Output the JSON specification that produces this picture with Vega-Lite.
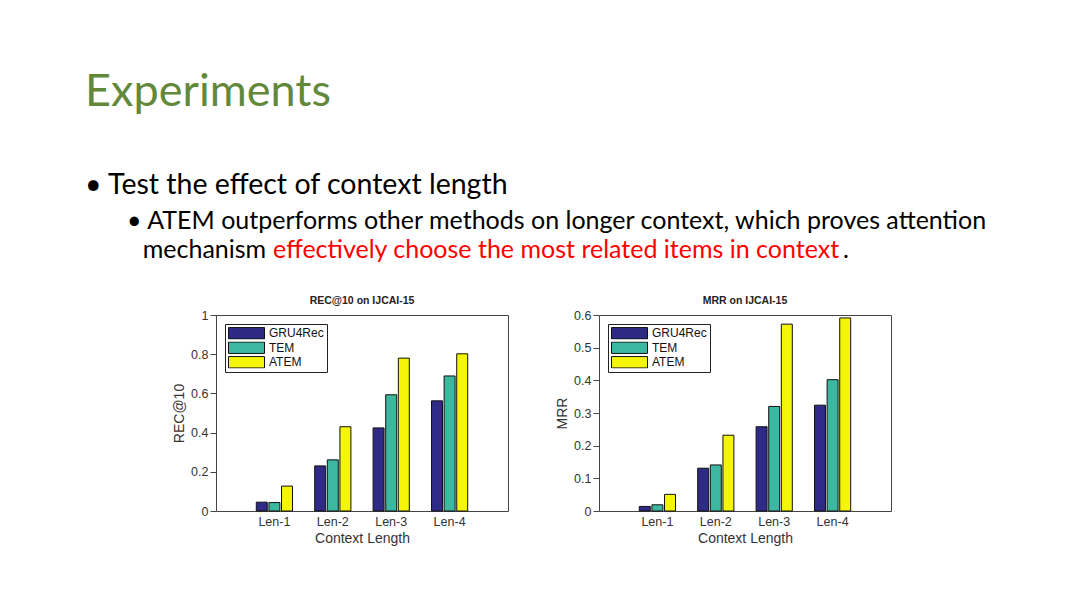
{
  "$schema": "https://vega.github.io/schema/vega-lite/v6.json",
  "background": "white",
  "padding": {"left": 85, "top": 69, "right": 5, "bottom": 5},
  "datasets": {
    "rec": [
      {"len": "Len-1", "method": "GRU4Rec", "value": 0.045},
      {"len": "Len-1", "method": "TEM", "value": 0.043},
      {"len": "Len-1", "method": "ATEM", "value": 0.127},
      {"len": "Len-2", "method": "GRU4Rec", "value": 0.230},
      {"len": "Len-2", "method": "TEM", "value": 0.261},
      {"len": "Len-2", "method": "ATEM", "value": 0.430},
      {"len": "Len-3", "method": "GRU4Rec", "value": 0.424},
      {"len": "Len-3", "method": "TEM", "value": 0.593},
      {"len": "Len-3", "method": "ATEM", "value": 0.780},
      {"len": "Len-4", "method": "GRU4Rec", "value": 0.562},
      {"len": "Len-4", "method": "TEM", "value": 0.689},
      {"len": "Len-4", "method": "ATEM", "value": 0.802}
    ],
    "mrr": [
      {"len": "Len-1", "method": "GRU4Rec", "value": 0.014},
      {"len": "Len-1", "method": "TEM", "value": 0.019},
      {"len": "Len-1", "method": "ATEM", "value": 0.051},
      {"len": "Len-2", "method": "GRU4Rec", "value": 0.131},
      {"len": "Len-2", "method": "TEM", "value": 0.141},
      {"len": "Len-2", "method": "ATEM", "value": 0.232},
      {"len": "Len-3", "method": "GRU4Rec", "value": 0.258},
      {"len": "Len-3", "method": "TEM", "value": 0.320},
      {"len": "Len-3", "method": "ATEM", "value": 0.572},
      {"len": "Len-4", "method": "GRU4Rec", "value": 0.324},
      {"len": "Len-4", "method": "TEM", "value": 0.402},
      {"len": "Len-4", "method": "ATEM", "value": 0.591}
    ]
  },
  "title": {
    "text": "Experiments",
    "subtitle": "\u2022 Test the effect of context length",
    "anchor": "start",
    "font": "Lato",
    "fontSize": 45,
    "fontWeight": "normal",
    "color": "#62893a",
    "subtitleFont": "Lato",
    "subtitleFontSize": 28.5,
    "subtitleColor": "#000000",
    "subtitlePadding": 56,
    "dx": -42,
    "offset": 10
  },
  "vconcat": [
    {
      "title": {"text": ".", "anchor": "start", "font": "Lato", "fontSize": 25, "color": "#000000", "fontWeight": "normal", "dx": 716, "dy": 54, "offset": 0},
      "vconcat": [
        {
          "title": {"text": "effectively choose the most related items in context", "anchor": "start", "font": "Lato", "fontSize": 25, "color": "#ff0000", "fontWeight": "normal", "dx": 146, "dy": 54, "offset": 0},
          "vconcat": [
            {
              "title": {
                "text": ["\u2022 ATEM outperforms other methods on longer context, which proves attention", "\u200b\u2002\u2009mechanism"],
                "anchor": "start",
                "font": "Lato",
                "fontSize": 25,
                "lineHeight": 29,
                "color": "#000000",
                "fontWeight": "normal",
                "dx": -45,
                "offset": 32
              },
              "hconcat": [
                {
                  "width": 292,
                  "height": 196,
                  "data": {"name": "rec"},
                  "title": {"text": "REC@10 on IJCAI-15", "font": "Liberation Sans", "fontSize": 10.5, "fontWeight": "bold", "color": "#222222", "offset": 3, "anchor": "middle"},
                  "mark": {"type": "bar", "stroke": "#111111", "strokeWidth": 1},
                  "encoding": {
                    "x": {"field": "len", "type": "nominal", "scale": {"domain": ["Len-1", "Len-2", "Len-3", "Len-4"], "paddingInner": 0.38, "paddingOuter": 0.69, "align": 0.5}, "axis": {"title": "Context Length", "labelAngle": 0, "ticks": false, "domain": false, "labelPadding": 4, "titlePadding": 4}},
                    "xOffset": {"field": "method", "type": "nominal", "scale": {"domain": ["GRU4Rec", "TEM", "ATEM"], "paddingInner": 0.13}},
                    "y": {"field": "value", "type": "quantitative", "scale": {"domain": [0, 1], "nice": false}, "axis": {"title": "REC@10", "values": [0, 0.2, 0.4, 0.6, 0.8, 1], "format": "~g", "grid": false, "domain": false, "tickSize": 6, "labelPadding": 2, "titlePadding": 4}},
                    "color": {"field": "method", "type": "nominal", "scale": {"domain": ["GRU4Rec", "TEM", "ATEM"], "range": ["#2e2a85", "#3cb8a0", "#f5f50a"]}, "legend": {"title": null, "orient": "top-left", "offset": 9}}
                  }
                },
                {
                  "width": 292,
                  "height": 196,
                  "data": {"name": "mrr"},
                  "title": {"text": "MRR on IJCAI-15", "font": "Liberation Sans", "fontSize": 10.5, "fontWeight": "bold", "color": "#222222", "offset": 3, "anchor": "middle"},
                  "mark": {"type": "bar", "stroke": "#111111", "strokeWidth": 1},
                  "encoding": {
                    "x": {"field": "len", "type": "nominal", "scale": {"domain": ["Len-1", "Len-2", "Len-3", "Len-4"], "paddingInner": 0.38, "paddingOuter": 0.69, "align": 0.5}, "axis": {"title": "Context Length", "labelAngle": 0, "ticks": false, "domain": false, "labelPadding": 4, "titlePadding": 4}},
                    "xOffset": {"field": "method", "type": "nominal", "scale": {"domain": ["GRU4Rec", "TEM", "ATEM"], "paddingInner": 0.13}},
                    "y": {"field": "value", "type": "quantitative", "scale": {"domain": [0, 0.6], "nice": false}, "axis": {"title": "MRR", "values": [0, 0.1, 0.2, 0.3, 0.4, 0.5, 0.6], "format": "~g", "grid": false, "domain": false, "tickSize": 6, "labelPadding": 2, "titlePadding": 4}},
                    "color": {"field": "method", "type": "nominal", "scale": {"domain": ["GRU4Rec", "TEM", "ATEM"], "range": ["#2e2a85", "#3cb8a0", "#f5f50a"]}, "legend": {"title": null, "orient": "top-left", "offset": 9}}
                  }
                }
              ],
              "spacing": 46,
              "resolve": {"scale": {"color": "independent"}}
            }
          ]
        }
      ]
    }
  ],
  "config": {
    "view": {"stroke": "#444444", "strokeWidth": 1},
    "axis": {"labelFont": "Liberation Sans", "labelFontSize": 12.5, "labelColor": "#333333", "titleFont": "Liberation Sans", "titleFontSize": 14, "titleFontWeight": "normal", "titleColor": "#333333", "tickColor": "#444444"},
    "legend": {
      "labelFont": "Liberation Sans",
      "labelFontSize": 12,
      "labelColor": "#111111",
      "fillColor": "white",
      "strokeColor": "#222222",
      "padding": 3,
      "rowPadding": 1.5,
      "clipHeight": 12.5,
      "labelOffset": 28,
      "symbolType": "M-1,-0.95H5V0.95H-1Z",
      "symbolSize": 144,
      "symbolStrokeColor": "#111111",
      "symbolStrokeWidth": 1,
      "symbolOpacity": 1
    }
  }
}
